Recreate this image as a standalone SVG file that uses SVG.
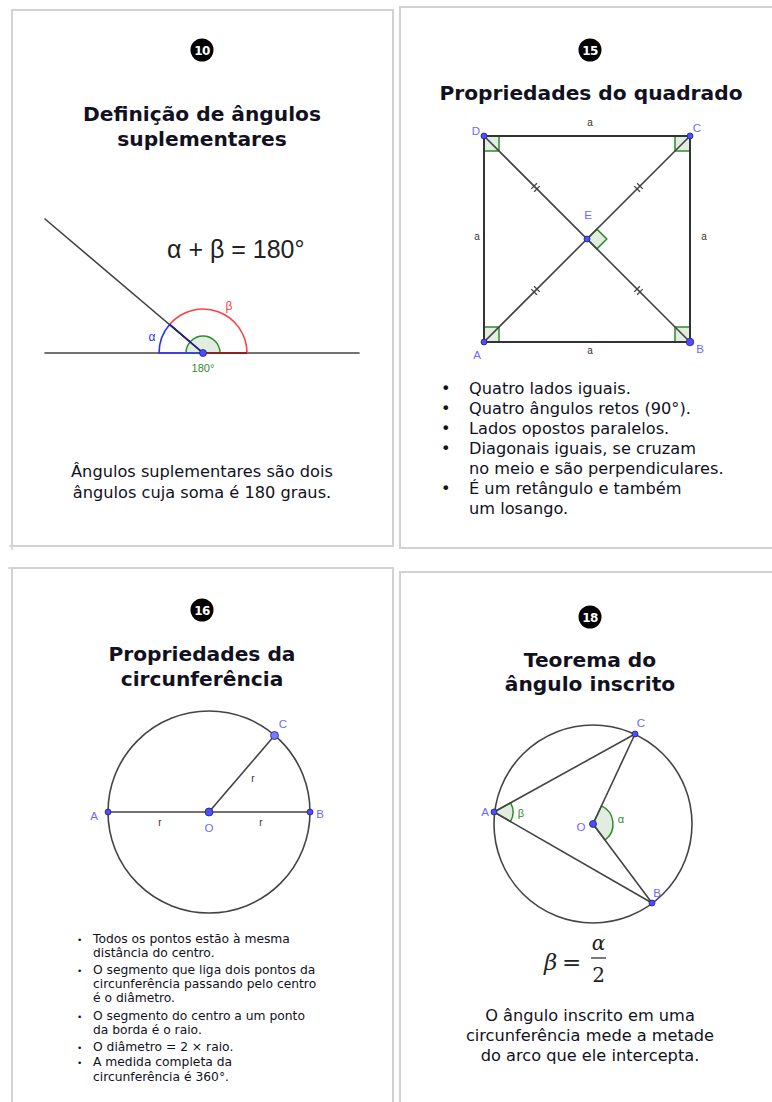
<svg xmlns="http://www.w3.org/2000/svg" width="772" height="1102" viewBox="0 0 772 1102">
<defs>
<style>
.card{fill:#fff;stroke:#d2d2d2;stroke-width:2}
.edge{stroke:#d2d2d2;stroke-width:1.5}
.badge{fill:#000}
.bnum{fill:#fff;font-family:"DejaVu Sans",sans-serif;font-weight:bold;font-size:12px;text-anchor:middle;letter-spacing:-0.5px}
.title{fill:#111122;font-family:"DejaVu Sans",sans-serif;font-weight:bold;font-size:20.2px;text-anchor:middle}
.body{fill:#111122;font-family:"DejaVu Sans",sans-serif;font-size:16.2px}
.mid{text-anchor:middle}
.small{fill:#111122;font-family:"DejaVu Sans",sans-serif;font-size:12.3px}
.geo{fill:none;stroke:#444;stroke-width:1.6;stroke-linecap:round}
.pt{fill:#4d4dff;stroke:#202080;stroke-width:0.8}
.lbl{fill:#6a6aff;font-family:"Liberation Sans",Arial,sans-serif;font-size:11.5px;text-anchor:middle}
.seg{fill:#333;font-family:"Liberation Sans",Arial,sans-serif;font-size:10px;text-anchor:middle}
.ang{fill:#d8e8d8;fill-opacity:0.8;stroke:#2e8b2e;stroke-width:1.5}
.glbl{fill:#2e8b2e;font-family:"Liberation Sans",Arial,sans-serif;font-size:11px;text-anchor:middle}
.math{fill:#222;font-family:"DejaVu Serif","Liberation Serif",serif}
</style>
<path id="tick2" d="M -2 -4 V 4 M 2 -4 V 4" stroke="#444" stroke-width="1.3" fill="none"/>
</defs>
<rect width="772" height="1102" fill="#fff"/>

<g id="card-10">
<rect class="card" x="12" y="10" width="381" height="536"/>
<line class="edge" x1="9" y1="546" x2="12" y2="546"/>
<line class="edge" x1="12" y1="546" x2="12" y2="550"/>
<circle class="badge" cx="202" cy="50" r="11.5"/>
<text class="bnum" x="202" y="54.5">10</text>
<text class="title" x="202" y="121">Definição de ângulos</text>
<text class="title" x="202" y="146">suplementares</text>
<text x="167" y="258" font-family="Liberation Sans,Arial,sans-serif" font-size="25" fill="#222">α + β = 180°</text>
<line class="geo" x1="45" y1="353" x2="359" y2="353"/>
<line class="geo" x1="45" y1="219" x2="203" y2="353"/>
<path class="ang" d="M 203 353 L 186 353 A 17 17 0 0 1 220 353 Z"/>
<path d="M 203 353 L 159 353 A 44 44 0 0 1 169.6 324.4 Z" fill="none" stroke="#3030ff" stroke-width="1.6"/>
<path d="M 169.6 324.4 A 44 44 0 0 1 247 353 L 203 353" fill="none" stroke="#ff4040" stroke-width="1.6"/>
<line x1="203" y1="353" x2="169.6" y2="324.4" stroke="#20206a" stroke-width="1.6"/>
<line x1="203" y1="353" x2="247" y2="353" stroke="#7a1010" stroke-width="1.6"/>
<circle class="pt" cx="203" cy="353" r="3.5"/>
<text x="152" y="341" font-family="Liberation Sans,Arial,sans-serif" font-size="12" fill="#3030ff" text-anchor="middle">α</text>
<text x="229" y="310" font-family="Liberation Sans,Arial,sans-serif" font-size="12" fill="#ff4040" text-anchor="middle">β</text>
<text class="glbl" x="203" y="372">180°</text>
<text class="body mid" x="202" y="477">Ângulos suplementares são dois</text>
<text class="body mid" x="202" y="498">ângulos cuja soma é 180 graus.</text>
</g>

<g id="card-15">
<rect class="card" x="400" y="7" width="380" height="541"/>
<circle class="badge" cx="590" cy="50" r="11.5"/>
<text class="bnum" x="590" y="54.5">15</text>
<text class="title" x="591" y="100">Propriedades do quadrado</text>
<rect class="ang" x="484" y="136" width="15" height="15"/>
<rect class="ang" x="675" y="136" width="15" height="15"/>
<rect class="ang" x="484" y="327" width="15" height="15"/>
<rect class="ang" x="675" y="327" width="15" height="15"/>
<polygon class="ang" points="587,239 596.9,229.1 606.8,239 596.9,248.9"/>
<rect x="484" y="136" width="206" height="206" fill="none" stroke="#333" stroke-width="2"/>
<line class="geo" x1="484" y1="136" x2="690" y2="342"/>
<line class="geo" x1="484" y1="342" x2="690" y2="136"/>
<use href="#tick2" transform="translate(535.5,187.5) rotate(45)"/>
<use href="#tick2" transform="translate(638.5,187.5) rotate(-45)"/>
<use href="#tick2" transform="translate(535.5,290.5) rotate(-45)"/>
<use href="#tick2" transform="translate(638.5,290.5) rotate(45)"/>
<circle class="pt" cx="484" cy="136" r="3"/>
<circle class="pt" cx="690" cy="136" r="3"/>
<circle class="pt" cx="484" cy="342" r="3"/>
<circle class="pt" cx="690" cy="342" r="3.8"/>
<circle class="pt" cx="587" cy="239" r="3"/>
<text class="lbl" x="476" y="135">D</text>
<text class="lbl" x="697" y="132">C</text>
<text class="lbl" x="477" y="359">A</text>
<text class="lbl" x="700" y="353">B</text>
<text class="lbl" x="588" y="219">E</text>
<text class="seg" x="590" y="126">a</text>
<text class="seg" x="590" y="354">a</text>
<text class="seg" x="477" y="240">a</text>
<text class="seg" x="704" y="240">a</text>
<g class="body">
<text x="441" y="394">•</text><text x="469" y="394">Quatro lados iguais.</text>
<text x="441" y="414">•</text><text x="469" y="414">Quatro ângulos retos (90°).</text>
<text x="441" y="434">•</text><text x="469" y="434">Lados opostos paralelos.</text>
<text x="441" y="454">•</text><text x="469" y="454">Diagonais iguais, se cruzam</text>
<text x="469" y="474">no meio e são perpendiculares.</text>
<text x="441" y="494">•</text><text x="469" y="494">É um retângulo e também</text>
<text x="469" y="514">um losango.</text>
</g>
</g>

<g id="card-16">
<rect class="card" x="12" y="568" width="381" height="540"/>
<line class="edge" x1="8" y1="568" x2="12" y2="568"/>
<circle class="badge" cx="202" cy="610" r="11.5"/>
<text class="bnum" x="202" y="614.5">16</text>
<text class="title" x="202" y="661">Propriedades da</text>
<text class="title" x="202" y="686">circunferência</text>
<circle class="geo" cx="209" cy="812" r="101"/>
<line class="geo" x1="108" y1="812" x2="310" y2="812"/>
<line class="geo" x1="209" y1="812" x2="274.5" y2="735.5"/>
<circle class="pt" cx="108" cy="812" r="3"/>
<circle class="pt" cx="310" cy="812" r="3"/>
<circle class="pt" cx="209" cy="812" r="4"/>
<circle cx="274.5" cy="735.5" r="4" fill="#7a7aff" stroke="#202080" stroke-width="0.8"/>
<text class="lbl" x="94" y="820" font-size="13">A</text>
<text class="lbl" x="320" y="818" font-size="13">B</text>
<text class="lbl" x="283" y="728" font-size="13">C</text>
<text class="lbl" x="209" y="832" font-size="13">O</text>
<text class="seg" x="160" y="826" font-size="11">r</text>
<text class="seg" x="261" y="826" font-size="11">r</text>
<text class="seg" x="253" y="782" font-size="11">r</text>
<g class="small">
<text x="77" y="943" font-size="9">•</text><text x="93" y="943">Todos os pontos estão à mesma</text>
<text x="93" y="957">distância do centro.</text>
<text x="77" y="974" font-size="9">•</text><text x="93" y="974">O segmento que liga dois pontos da</text>
<text x="93" y="988">circunferência passando pelo centro</text>
<text x="93" y="1002">é o diâmetro.</text>
<text x="77" y="1020" font-size="9">•</text><text x="93" y="1020">O segmento do centro a um ponto</text>
<text x="93" y="1034">da borda é o raio.</text>
<text x="77" y="1051" font-size="9">•</text><text x="93" y="1051">O diâmetro = 2 × raio.</text>
<text x="77" y="1066" font-size="9">•</text><text x="93" y="1066">A medida completa da</text>
<text x="93" y="1081">circunferência é 360°.</text>
</g>
</g>

<g id="card-18">
<rect class="card" x="400" y="572" width="380" height="540"/>
<circle class="badge" cx="590" cy="617" r="11.5"/>
<text class="bnum" x="590" y="621.5">18</text>
<text class="title" x="590" y="667">Teorema do</text>
<text class="title" x="590" y="691">ângulo inscrito</text>
<circle class="geo" cx="593" cy="824" r="99"/>
<path class="ang" d="M 494 812 L 510.6 802.8 A 19 19 0 0 1 510.5 821.5 Z"/>
<path class="ang" d="M 593 824 L 601.5 805.9 A 20 20 0 0 1 605 840 Z"/>
<line class="geo" x1="494" y1="812" x2="635" y2="734"/>
<line class="geo" x1="494" y1="812" x2="652" y2="903"/>
<line class="geo" x1="593" y1="824" x2="635" y2="734"/>
<line class="geo" x1="593" y1="824" x2="652" y2="903"/>
<circle class="pt" cx="494" cy="812" r="3"/>
<circle class="pt" cx="635" cy="734" r="3"/>
<circle class="pt" cx="652" cy="903" r="3"/>
<circle class="pt" cx="593" cy="824" r="3.5"/>
<text class="lbl" x="485" y="816">A</text>
<text class="lbl" x="641" y="727">C</text>
<text class="lbl" x="657" y="897">B</text>
<text class="lbl" x="581" y="831">O</text>
<text class="glbl" x="521" y="817">β</text>
<text class="glbl" x="621" y="823">α</text>
<text class="math" x="544" y="970" font-size="23" font-style="italic">β</text>
<text class="math" x="562" y="970" font-size="23">=</text>
<line x1="591" y1="958" x2="606" y2="958" stroke="#222" stroke-width="1.2"/>
<text class="math" x="598.5" y="950" font-size="20" font-style="italic" text-anchor="middle">α</text>
<text class="math" x="598.5" y="982" font-size="20" text-anchor="middle">2</text>
<text class="body mid" x="590" y="1021">O ângulo inscrito em uma</text>
<text class="body mid" x="590" y="1041">circunferência mede a metade</text>
<text class="body mid" x="590" y="1061">do arco que ele intercepta.</text>
</g>
</svg>
